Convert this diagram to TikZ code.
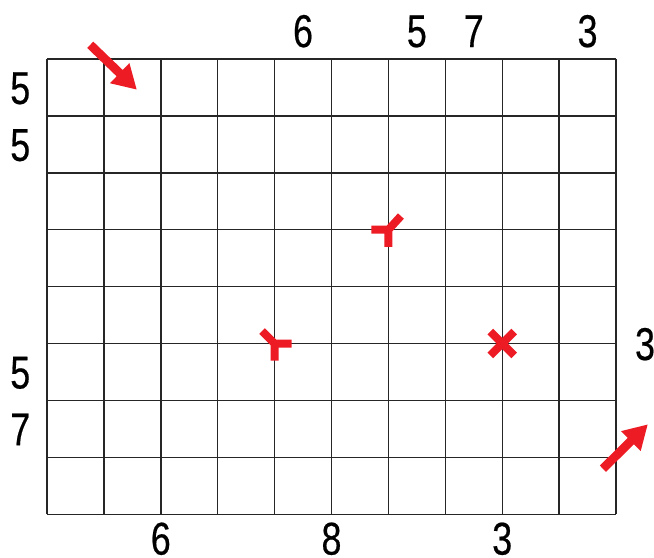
\documentclass[tikz,border=0pt]{standalone}
\usepackage{fontspec}
\newfontfamily\cluefont[FakeStretch=0.78,FakeBold=0.4]{Liberation Sans}
\usetikzlibrary{arrows.meta,positioning,calc}
\definecolor{markred}{RGB}{237,28,36}

\begin{document}
\begin{tikzpicture}[>={Triangle[length=0.42cm,width=0.46cm]},
    clue/.style={font=\cluefont\fontsize{23}{23}\selectfont,inner sep=0pt,
      text height=16.5pt,text depth=0pt},
    redmark/.style={markred,line width=4pt},
    hint/.style={->,markred,line width=4.4pt}]
    \useasboundingbox (-0.826,-0.756) rectangle (10.668,9.037);
    % grid
    \draw[line width=0.7pt,black!85] (0,0) grid (10,8);
    % clues along the top (in the columns)
    \node[clue] (t5) at (4.5,8.5) {6};
    \node[clue] (t7) at (6.5,8.5) {5};
    \node[clue] (t8) at (7.5,8.5) {7};
    \node[clue] (t10) at (9.5,8.5) {3};
    % clues along the bottom (on the lines)
    \node[clue] (b2) at (2,-0.42) {6};
    \node[clue] (b5) at (5,-0.42) {8};
    \node[clue] (b8) at (8,-0.42) {3};
    % clues along the left
    \node[clue] (l1) at (-0.47,7.5) {5};
    \node[clue] (l2) at (-0.47,6.5) {5};
    \node[clue] (l6) at (-0.47,2.5) {5};
    \node[clue] (l7) at (-0.47,1.5) {7};
    % clue on the right
    \node[clue] (r3) at (10.51,3) {3};
    % red marks
    \coordinate (yA) at (6,5);
    \coordinate (yB) at (4,3);
    \coordinate (xC) at (8,3);
    \draw[redmark] (yA) -- ++(0,-0.3) (yA) -- ++(-0.3,0) (yA) -- ++(0.22,0.24);
    \draw[redmark] (yB) -- ++(0,-0.3) (yB) -- ++(0.3,0) (yB) -- ++(-0.22,0.22);
    \draw[redmark] ($(xC)+(-0.21,-0.21)$) -- ($(xC)+(0.21,0.21)$)
                ($(xC)+(-0.21,0.21)$) -- ($(xC)+(0.21,-0.21)$);
    % entry and exit arrows
    \coordinate (inS) at (0.76,8.25);
    \coordinate (inE) at (1.58,7.46);
    \coordinate (outS) at (9.77,0.8);
    \coordinate (outE) at (10.56,1.58);
    \draw[hint] (inS) -- (inE);
    \draw[hint] (outS) -- (outE);
\end{tikzpicture}
\end{document}
